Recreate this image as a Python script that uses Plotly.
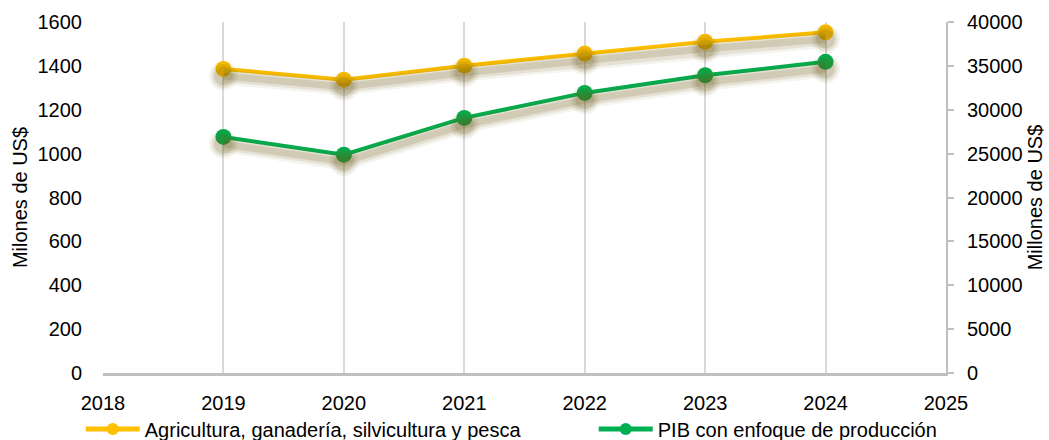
import plotly.graph_objects as go

years = [2019, 2020, 2021, 2022, 2023, 2024]
agri = [1386, 1337, 1401, 1456, 1510, 1553]
pib = [26900, 24880, 29070, 31920, 33930, 35460]
left_ticks = [0, 200, 400, 600, 800, 1000, 1200, 1400, 1600]
right_ticks = [0, 5000, 10000, 15000, 20000, 25000, 30000, 35000, 40000]
x_ticks = [2018, 2019, 2020, 2021, 2022, 2023, 2024, 2025]

YELLOW = "#FFC000"
GREEN = "#00B050"
FONT = "Liberation Sans, Arial, sans-serif"
FS = 20

fig = go.Figure()

# soft drop shadows (drawn on shifted overlay axes)
shadow_layers = [(17, 0.07), (12, 0.11), (7, 0.16)]
for w, a in shadow_layers:
    col = f"rgba(105,88,20,{a})"
    fig.add_trace(go.Scatter(x=years, y=agri, yaxis="y3", mode="lines+markers",
                             line=dict(color=col, width=w), marker=dict(size=12 + w, color=col),
                             showlegend=False, hoverinfo="skip"))
    fig.add_trace(go.Scatter(x=years, y=pib, yaxis="y4", mode="lines+markers",
                             line=dict(color=col, width=w), marker=dict(size=12 + w, color=col),
                             showlegend=False, hoverinfo="skip"))

fig.add_trace(go.Scatter(x=years, y=agri, name="Agricultura, ganadería, silvicultura y pesca",
                         mode="lines+markers", line=dict(color=YELLOW, width=4),
                         marker=dict(size=16, color=YELLOW), yaxis="y", legend="legend"))
fig.add_trace(go.Scatter(x=years, y=pib, name="PIB con enfoque de producción",
                         mode="lines+markers", line=dict(color=GREEN, width=4),
                         marker=dict(size=16, color=GREEN), yaxis="y2", legend="legend2"))

d_left = 7 / 350.5 * 1600
d_right = 7 / 350.5 * 40000

legend_common = dict(orientation="h", xanchor="left", yref="container", y=0.025,
                     yanchor="middle", xref="container", font=dict(size=FS),
                     bgcolor="rgba(0,0,0,0)", itemsizing="constant", itemwidth=54)

fig.update_layout(
    width=1049, height=440,
    margin=dict(l=103, r=103, t=22, b=67, autoexpand=False),
    paper_bgcolor="white", plot_bgcolor="white",
    font=dict(family=FONT, size=FS, color="black"),
    xaxis=dict(range=[2018, 2025], tickvals=x_ticks, ticktext=[str(v) for v in x_ticks],
               showgrid=True, gridcolor="#d9d9d9", gridwidth=2,
               showline=True, linecolor="#bfbfbf", linewidth=3,
               ticks="", zeroline=False, tickfont=dict(size=FS),
               ticklabelstandoff=10, automargin=False),
    yaxis=dict(range=[0, 1600], tickvals=left_ticks, ticktext=[str(v) for v in left_ticks],
               showgrid=False, zeroline=False,
               showline=False, ticks="", tickfont=dict(size=FS), ticklabelstandoff=20,
               automargin=False,
               title=dict(text="Milones de US$", font=dict(size=FS), standoff=4)),
    yaxis2=dict(range=[0, 40000], tickvals=right_ticks, ticktext=[str(v) for v in right_ticks],
                overlaying="y", side="right",
                showgrid=False, zeroline=False, showline=True, linecolor="#bfbfbf", linewidth=2,
                ticks="outside", ticklen=6, tickcolor="#bfbfbf", tickwidth=2,
                tickfont=dict(size=FS), ticklabelstandoff=9, automargin=False,
                title=dict(text="Millones de US$", font=dict(size=FS), standoff=6)),
    yaxis3=dict(range=[d_left, 1600 + d_left], overlaying="y", visible=False),
    yaxis4=dict(range=[d_right, 40000 + d_right], overlaying="y", visible=False),
    legend=dict(x=0.077, **legend_common),
    legend2=dict(x=0.566, **legend_common),
    showlegend=True,
)

fig.write_html("out.html", config={"displayModeBar": False},
               post_script="document.body.style.margin='0';document.body.style.overflow='hidden';")
